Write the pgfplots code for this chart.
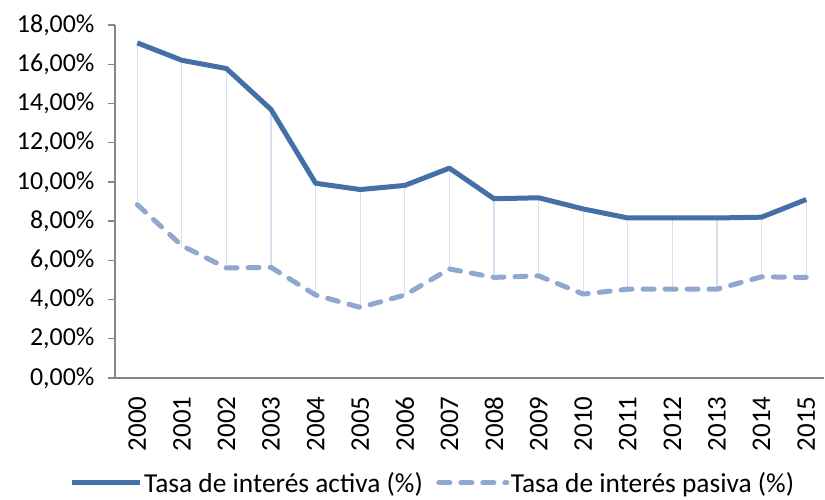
\documentclass[border=0pt]{standalone}
\usepackage{fontspec}
\setmainfont{Carlito}
\usepackage{pgfplots}
\pgfplotsset{compat=1.18}
\usepackage{pgfplotstable}
\definecolor{activa}{HTML}{4470A8}
\definecolor{pasiva}{HTML}{90A8D0}
\definecolor{dropc}{HTML}{D6E0EF}
\definecolor{axisgray}{HTML}{868686}

\pgfplotstableread{
x a p
0 17.09 8.84
1 16.20 6.75
2 15.78 5.61
3 13.69 5.64
4 9.93 4.23
5 9.61 3.60
6 9.82 4.23
7 10.70 5.56
8 9.14 5.13
9 9.19 5.21
10 8.62 4.28
11 8.16 4.53
12 8.16 4.53
13 8.16 4.53
14 8.20 5.16
15 9.10 5.13
}\datatab

\begin{document}
\begin{tikzpicture}[font=\fontsize{26}{30}\selectfont]
\useasboundingbox (0bp,0bp) rectangle (825bp,500bp);
\begin{axis}[
  at={(115bp,122bp)}, anchor=south west,
  width=709bp, height=353bp, scale only axis,
  xmin=-0.5, xmax=15.4, ymin=0, ymax=18,
  clip=false,
  axis x line*=bottom, axis y line*=left,
  axis line style={axisgray, line width=1.5bp, -},
  every tick/.style={axisgray, line width=1.3bp},
  tick align=outside,
  major tick length=7bp, minor tick length=7bp,
  xtick={0,...,15},
  xticklabels={2000,2001,2002,2003,2004,2005,2006,2007,2008,2009,2010,2011,2012,2013,2014,2015},
  x tick style={draw=none},
  minor xtick={-0.5,0.5,...,14.5},
  xticklabel style={rotate=90, anchor=east, xshift=-8bp, font=\fontsize{27}{31}\selectfont},
  ytick={0,2,...,18},
  /pgf/number format/assume math mode=true,
  yticklabel={\pgfmathprintnumber[fixed, fixed zerofill, precision=2, use comma]{\tick}\%},
  yticklabel style={xshift=-10bp, font=\fontsize{26}{30}\selectfont},
  legend columns=2,
  legend style={draw=none, fill=none, at={(0.448,-0.297)}, anchor=center,
    inner sep=0pt, nodes={inner sep=1.5bp},
    font=\fontsize{27.5}{31}\selectfont,
    /tikz/every even column/.append style={column sep=12bp}},
  legend image code/.code={\draw[#1] (0bp,0bp) -- (68bp,0bp);},
]
\addplot[draw=none, forget plot, error bars/.cd, y dir=minus, y explicit,
  error mark=none, error bar style={dropc, line width=1.2bp}]
  table[x=x, y=a, y error minus expr=\thisrow{a}-\thisrow{p}] {\datatab};
\addplot[activa, line width=5bp, line join=round] table[x=x, y=a] {\datatab};
\addlegendentry{Tasa de interés activa (\%)}
\addplot[pasiva, line width=5bp, line join=round, line cap=round, dash pattern=on 11bp off 11bp] table[x=x, y=p] {\datatab};
\addlegendentry{Tasa de interés pasiva (\%)}
\end{axis}
\end{tikzpicture}
\end{document}
